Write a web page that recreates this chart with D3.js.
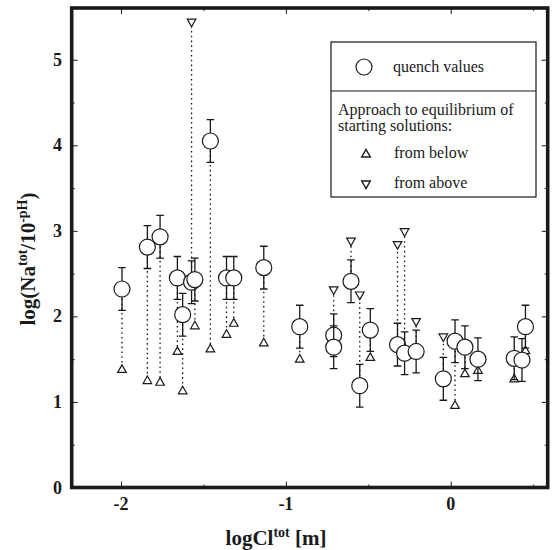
<!DOCTYPE html>
<html>
<head>
<meta charset="utf-8">
<script src="https://cdn.jsdelivr.net/npm/d3@7/dist/d3.min.js"></script>
<style>
  html, body { margin: 0; padding: 0; background: #fff; }
  svg { display: block; font-family: "Liberation Serif", "Times New Roman", serif; }
</style>
</head>
<body>
<svg id="chart" width="553" height="550"></svg>
<script>
// log total chloride molality of each run
const logCl = [-1.994, -1.840, -1.763, -1.658, -1.626, -1.572, -1.552, -1.458, -1.360, -1.316,
               -1.134, -0.916, -0.710, -0.710, -0.605, -0.552, -0.488, -0.323, -0.280, -0.210,
               -0.045, 0.026, 0.086, 0.165, 0.385, 0.432, 0.453];
// quench values of log(Na_tot / 10^-pH)
const quench = [2.32, 2.81, 2.93, 2.45, 2.02, 2.40, 2.43, 4.05, 2.45, 2.45,
                2.57, 1.88, 1.78, 1.64, 2.41, 1.19, 1.84, 1.67, 1.57, 1.59,
                1.27, 1.71, 1.64, 1.50, 1.51, 1.49, 1.88];
// error bar half-lengths
const quenchErr = [0.25, 0.25, 0.25, 0.25, 0.25, 0.25, 0.25, 0.25, 0.25, 0.25,
                   0.25, 0.25, 0.25, 0.25, 0.25, 0.25, 0.25, 0.25, 0.25, 0.25,
                   0.25, 0.25, 0.25, 0.25, 0.25, 0.25, 0.25];
// starting-solution values and direction of approach ("below" / "above" / null)
const startVal = [1.38, 1.25, 1.23, 1.59, 1.13, 5.44, 1.89, 1.62, 1.79, 1.92,
                  1.69, 1.50, 2.31, null, 2.88, 2.25, 1.52, 2.84, 2.99, 1.94,
                  1.76, 0.96, 1.33, 1.37, 1.27, null, 1.60];
const startDir = ["below", "below", "below", "below", "below", "above", "below", "below", "below", "below",
                  "below", "below", "above", null, "above", "above", "below", "above", "above", "above",
                  "above", "below", "below", "below", "below", null, "below"];

const xTicks = [-2, -1, 0];
const xMinor = [-1.5, -0.5, 0.5];
const yTicks = [0, 1, 2, 3, 4, 5];
const yMinor = [0.5, 1.5, 2.5, 3.5, 4.5];

const legendItems = ["quench values", "Approach to equilibrium of", "starting solutions:", "from below", "from above"];

const svg = d3.select("#chart");
const ink = "#1a1a1a";

const plot = { left: 71.7, right: 547.7, top: 8, bottom: 487.5 };
const x = d3.scaleLinear().domain([-2.299, 0.588]).range([plot.left, plot.right]);
const y = d3.scaleLinear().domain([0, 5.6]).range([plot.bottom, plot.top + 0.4]);

// ticks on all four sides, pointing inward
function tickAxis(axisGen, transform, major, minor, majorLen, minorLen) {
  svg.append("g").attr("transform", transform)
    .call(axisGen.tickValues(major).tickSize(majorLen).tickFormat(""))
    .call(g => g.select(".domain").remove())
    .call(g => g.selectAll("line").attr("stroke", ink).attr("stroke-width", 1));
  svg.append("g").attr("transform", transform)
    .call(axisGen.tickValues(minor).tickSize(minorLen).tickFormat(""))
    .call(g => g.select(".domain").remove())
    .call(g => g.selectAll("line").attr("stroke", ink).attr("stroke-width", 1));
}
tickAxis(d3.axisTop(x), `translate(0,${plot.bottom})`, xTicks, xMinor, 6, 3);
tickAxis(d3.axisBottom(x), `translate(0,${plot.top})`, xTicks, xMinor, 6, 3);
tickAxis(d3.axisRight(y), `translate(${plot.left},0)`, yTicks, yMinor, 6, 3);
tickAxis(d3.axisLeft(y), `translate(${plot.right},0)`, yTicks, yMinor, 6, 3);

// tick labels
svg.append("g").selectAll("text").data(xTicks).join("text")
  .attr("x", d => x(d)).attr("y", 510)
  .attr("text-anchor", "middle").attr("font-size", 18).attr("font-weight", "bold").attr("fill", ink)
  .text(d => d);
svg.append("g").selectAll("text").data(yTicks).join("text")
  .attr("x", 62).attr("y", d => y(d) + 6)
  .attr("text-anchor", "end").attr("font-size", 18).attr("font-weight", "bold").attr("fill", ink)
  .text(d => d);

// axis titles
const xt = svg.append("text").attr("x", 276).attr("y", 545)
  .attr("text-anchor", "middle").attr("font-size", 21).attr("font-weight", "bold").attr("fill", ink);
xt.append("tspan").text("logCl");
xt.append("tspan").attr("dy", -8).attr("font-size", 14).text("tot");
xt.append("tspan").attr("dy", 8).text(" [m]");

const yt = svg.append("text").attr("transform", "translate(35,259) rotate(-90)")
  .attr("text-anchor", "middle").attr("font-size", 21).attr("font-weight", "bold").attr("fill", ink);
yt.append("tspan").text("log(Na");
yt.append("tspan").attr("dy", -8).attr("font-size", 14).text("tot");
yt.append("tspan").attr("dy", 8).text("/10");
yt.append("tspan").attr("dy", -8).attr("font-size", 14).text("-pH");
yt.append("tspan").attr("dy", 8).text(")");

const runs = logCl.map((c, i) => ({ c, q: quench[i], e: quenchErr[i], s: startVal[i], dir: startDir[i] }));
const R = 8;

const triPath = (dir) => dir === "below"
  ? "M0,-4.6L4.3,3L-4.3,3Z"
  : "M0,4.6L4.3,-3L-4.3,-3Z";

// dotted links between quench value and starting value
svg.append("g").selectAll("line").data(runs.filter(d => d.s !== null)).join("line")
  .attr("x1", d => x(d.c)).attr("x2", d => x(d.c))
  .attr("y1", d => y(d.q)).attr("y2", d => y(d.s))
  .attr("stroke", ink).attr("stroke-width", 1.3).attr("stroke-dasharray", "1.6,3.2");

// starting-solution triangles
svg.append("g").selectAll("path").data(runs.filter(d => d.s !== null)).join("path")
  .attr("transform", d => `translate(${x(d.c)},${y(d.s)})`)
  .attr("d", d => triPath(d.dir))
  .attr("fill", "#fff").attr("stroke", ink).attr("stroke-width", 1.2);

// error bars and quench circles
const q = svg.append("g").selectAll("g").data(runs).join("g")
  .attr("transform", d => `translate(${x(d.c)},0)`);
q.append("path")
  .attr("d", d => {
    const top = y(d.q + d.e), bot = y(d.q - d.e), cy = y(d.q);
    return `M0,${cy}V${top}M-3.8,${top}H3.8M0,${cy}V${bot}M-3.8,${bot}H3.8`;
  })
  .attr("fill", "none").attr("stroke", ink).attr("stroke-width", 1.3);
q.append("circle")
  .attr("cy", d => y(d.q)).attr("r", R)
  .attr("fill", "#fff").attr("stroke", ink).attr("stroke-width", 1.2);

// frame
svg.append("rect")
  .attr("x", plot.left).attr("y", plot.top)
  .attr("width", plot.right - plot.left).attr("height", plot.bottom - plot.top)
  .attr("fill", "none").attr("stroke", ink).attr("stroke-width", 3.6);

// legend
const lg = svg.append("g");
lg.append("rect").attr("x", 331).attr("y", 42).attr("width", 205).attr("height", 155)
  .attr("fill", "#fff").attr("stroke", ink).attr("stroke-width", 1.2);
lg.append("line").attr("x1", 331).attr("x2", 536).attr("y1", 91).attr("y2", 91)
  .attr("stroke", ink).attr("stroke-width", 1.2);
lg.append("circle").attr("cx", 364).attr("cy", 67).attr("r", R)
  .attr("fill", "#fff").attr("stroke", ink).attr("stroke-width", 1.2);
lg.append("path").attr("transform", "translate(366,154)").attr("d", triPath("below"))
  .attr("fill", "none").attr("stroke", ink).attr("stroke-width", 1.4);
lg.append("path").attr("transform", "translate(366,184)").attr("d", triPath("above"))
  .attr("fill", "none").attr("stroke", ink).attr("stroke-width", 1.4);
const legendPos = [[393, 72], [338, 115], [338, 131], [394, 158], [394, 188]];
lg.selectAll("text.lt").data(legendItems).join("text")
  .attr("class", "lt")
  .attr("x", (d, i) => legendPos[i][0]).attr("y", (d, i) => legendPos[i][1])
  .attr("font-size", 16).attr("fill", ink)
  .text(d => d);
</script>
</body>
</html>
